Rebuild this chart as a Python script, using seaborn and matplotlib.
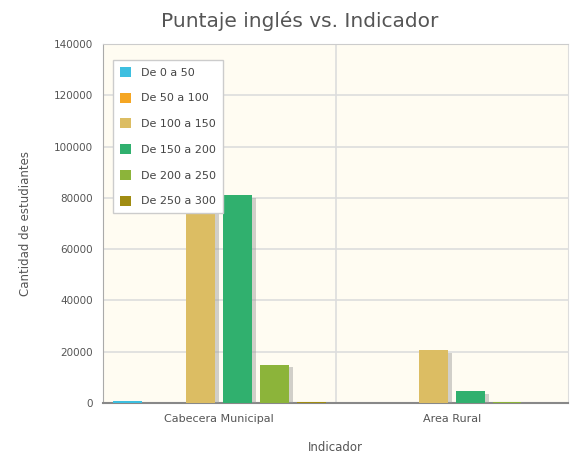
import numpy as np
import pandas as pd
import matplotlib.pyplot as plt
import matplotlib.patheffects as pe
import seaborn as sns

# Data
indicadores = ["Cabecera Municipal", "Area Rural"]
rangos = ["De 0 a 50", "De 50 a 100", "De 100 a 150", "De 150 a 200", "De 200 a 250", "De 250 a 300"]
cabecera = [900, 0, 118000, 81000, 15000, 500]
rural = [100, 0, 20500, 4700, 300, 50]
colores = ["#3dbfe0", "#f5a623", "#dcbd63", "#30b06e", "#8cb43a", "#a08c12"]
y_ticks = [0, 20000, 40000, 60000, 80000, 100000, 120000, 140000]

df = pd.DataFrame({
    "Indicador": np.repeat(indicadores, len(rangos)),
    "Rango": rangos * len(indicadores),
    "Cantidad": cabecera + rural,
})

sns.set_style("white")
plt.rcParams["font.family"] = ["DejaVu Sans"]

fig = plt.figure(figsize=(5.71, 4.61), dpi=100)
ax = fig.add_axes([103 / 571, 58 / 461, 465 / 571, 359 / 461])
ax.set_facecolor("#fffcf2")

sns.barplot(
    data=df, x="Indicador", y="Cantidad", hue="Rango",
    hue_order=rangos, order=indicadores, palette=colores,
    width=0.95, gap=0.22, saturation=1, ax=ax, zorder=3,
)

bars = list(ax.patches)
for bar in bars:
    bar.set_edgecolor("none")
    bar.set_path_effects([
        pe.SimplePatchShadow(offset=(3, -2), shadow_rgbFace="#999999", alpha=0.45),
        pe.Normal(),
    ])

ax.set_xlim(-0.5, 1.5)
ax.set_ylim(0, 140000)
ax.set_yticks(y_ticks)
ax.set_yticklabels([str(v) for v in y_ticks], fontsize=7.5, color="#555555")
ax.tick_params(axis="x", labelsize=8, colors="#555555", length=0, pad=8)
ax.tick_params(axis="y", length=4, color="#bbbbbb", pad=3)
ax.yaxis.grid(True, color="#dddddd", linewidth=1.2, zorder=0)
ax.axvline(0.5, color="#dddddd", linewidth=1.2, zorder=0)
ax.set_axisbelow(True)

for side in ["left", "bottom", "top", "right"]:
    ax.spines[side].set_visible(True)
ax.spines["left"].set_color("#aaaaaa")
ax.spines["bottom"].set_color("#888888")
ax.spines["bottom"].set_linewidth(1.5)
ax.spines["top"].set_color("#cccccc")
ax.spines["right"].set_color("#dddddd")

ax.set_xlabel("Indicador", fontsize=8.5, color="#555555", labelpad=12)
ax.set_ylabel("Cantidad de estudiantes", fontsize=8.5, color="#555555", labelpad=16)
fig.text(0.525, 0.955, "Puntaje inglés vs. Indicador", ha="center", va="center",
         fontsize=14.5, color="#555555")

leg = ax.legend(loc="upper left", bbox_to_anchor=(0.022, 0.955), fontsize=8,
                frameon=True, fancybox=False, handlelength=1.0, handleheight=1.0,
                handletextpad=0.9, labelspacing=1.35, borderpad=0.6, borderaxespad=0)
leg.get_frame().set_edgecolor("#cccccc")
leg.get_frame().set_facecolor("white")
leg.get_frame().set_alpha(1)
for h in leg.legend_handles:
    h.set_path_effects([])
for t in leg.get_texts():
    t.set_color("#444444")

fig.savefig("out.png", dpi=100)
